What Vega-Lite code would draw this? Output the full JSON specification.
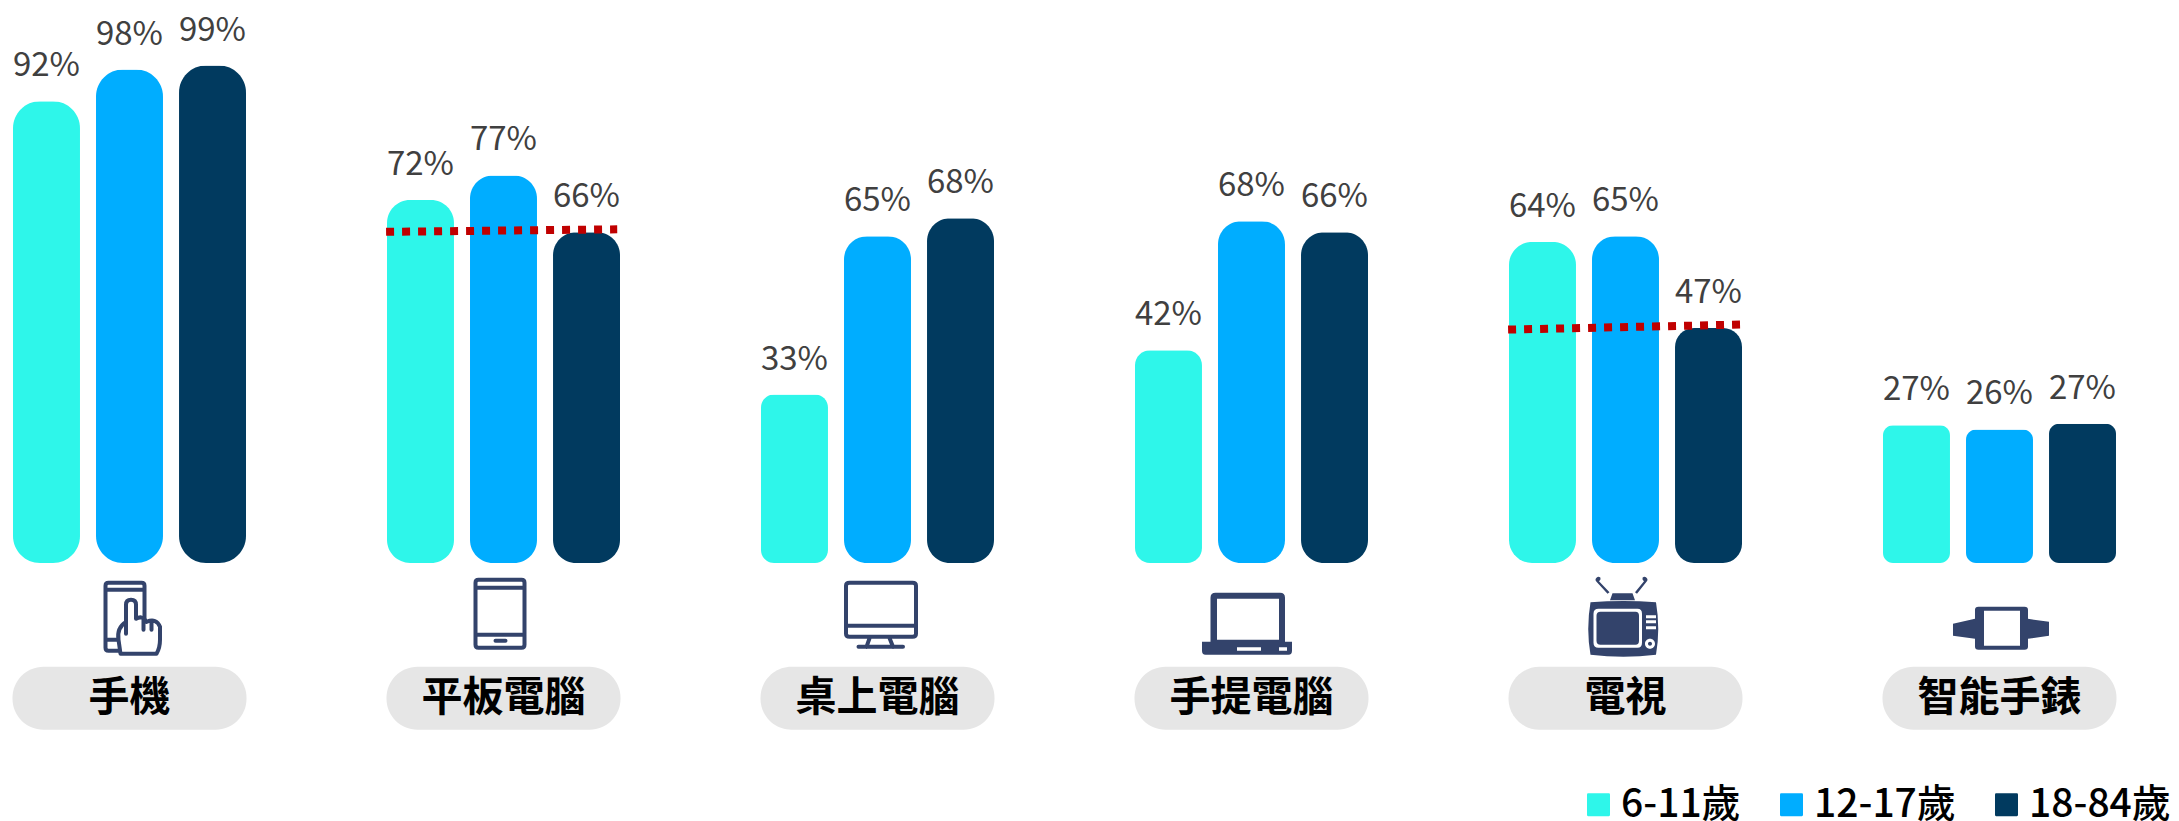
{
"$schema":"https://vega.github.io/schema/vega-lite/v6.json",
"width":2179,"height":821,"padding":0,
"autosize":{"type":"fit","contains":"padding"},
"background":"#ffffff",
"config":{"view":{"stroke":null},"text":{"font":"Noto Sans CJK TC"}},
"datasets":{
"bars":[
{"device":"手機","age":"6-11歲","value":91.6,"label":"92%"},{"device":"手機","age":"12-17歲","value":97.9,"label":"98%"},{"device":"手機","age":"18-84歲","value":98.7,"label":"99%"},
{"device":"平板電腦","age":"6-11歲","value":72,"label":"72%"},{"device":"平板電腦","age":"12-17歲","value":76.9,"label":"77%"},{"device":"平板電腦","age":"18-84歲","value":65.6,"label":"66%"},
{"device":"桌上電腦","age":"6-11歲","value":33.4,"label":"33%"},{"device":"桌上電腦","age":"12-17歲","value":64.8,"label":"65%"},{"device":"桌上電腦","age":"18-84歲","value":68.4,"label":"68%"},
{"device":"手提電腦","age":"6-11歲","value":42.2,"label":"42%"},{"device":"手提電腦","age":"12-17歲","value":67.8,"label":"68%"},{"device":"手提電腦","age":"18-84歲","value":65.6,"label":"66%"},
{"device":"電視","age":"6-11歲","value":63.7,"label":"64%"},{"device":"電視","age":"12-17歲","value":64.8,"label":"65%"},{"device":"電視","age":"18-84歲","value":46.6,"label":"47%"},
{"device":"智能手錶","age":"6-11歲","value":27.3,"label":"27%"},{"device":"智能手錶","age":"12-17歲","value":26.5,"label":"26%"},{"device":"智能手錶","age":"18-84歲","value":27.6,"label":"27%"}
],
"devices":[{"device":"手機"},{"device":"平板電腦"},{"device":"桌上電腦"},{"device":"手提電腦"},{"device":"電視"},{"device":"智能手錶"}],
"iconOutline":[{"device":"手機","part":"phone"},{"device":"手機","part":"hand"},{"device":"平板電腦","part":"tablet"},{"device":"桌上電腦","part":"desktop"}],
"iconSolid":[{"device":"手提電腦","part":"laptop"},{"device":"電視","part":"tv"},{"device":"智能手錶","part":"watch"}],
"iconDetail":[{"device":"手提電腦","part":"laptopDetail"},{"device":"電視","part":"tvDetail"},{"device":"智能手錶","part":"watchDetail"}],
"refLine":[
{"group":"平板電腦","pos":0.686,"level":65.7},{"group":"平板電腦","pos":1.304,"level":66.2},
{"group":"電視","pos":3.686,"level":46.3},{"group":"電視","pos":4.309,"level":47.3}
]
},
"layer":[
{"layer":[
{"data":{"name":"devices"},
 "mark":{"type":"bar","width":234,"cornerRadius":31,"color":"#e6e6e6"},
 "encoding":{
  "x":{"field":"device","type":"nominal","sort":null,"axis":null,"scale":{"domain":["手機","平板電腦","桌上電腦","手提電腦","電視","智能手錶"],"range":[13,2116],"paddingInner":0.377,"paddingOuter":0}},
  "y":{"datum":-20.6,"type":"quantitative","axis":null,"scale":{"domain":[-51.2,111.7],"nice":false,"zero":false}},
  "y2":{"datum":-33.1}}},
{"data":{"name":"devices"},
 "mark":{"type":"text","fontSize":41,"fontWeight":700,"color":"#000000","baseline":"middle","font":"Noto Sans CJK TC"},
 "encoding":{"x":{"field":"device","type":"nominal"},
  "y":{"datum":-26.9,"type":"quantitative"},"text":{"field":"device"}}},
{"data":{"name":"bars"},
 "encoding":{
  "x":{"field":"device","type":"nominal"},
  "xOffset":{"field":"age","type":"nominal","scale":{"domain":["6-11歲","12-17歲","18-84歲"],"paddingInner":0.193,"paddingOuter":0}},
  "y":{"field":"value","type":"quantitative"},
  "color":{"field":"age","type":"nominal","scale":{"domain":["6-11歲","12-17歲","18-84歲"],"range":["#2ef6ea","#00adff","#013a5f"]},
   "legend":{"orient":"none","legendX":1579,"legendY":785,"padding":0,"direction":"horizontal","title":null,"symbolType":"M-0.9,-1 L0.9,-1 Q1,-1 1,-0.9 L1,0.9 Q1,1 0.9,1 L-0.9,1 Q-1,1 -1,0.9 L-1,-0.9 Q-1,-1 -0.9,-1 Z","symbolSize":529,"symbolStrokeWidth":0,"labelFontSize":39,"labelFont":"Noto Sans CJK TC","labelFontWeight":500,"labelColor":"#000000","labelLimit":300,"columnPadding":31,"labelOffset":3}}},
 "layer":[
  {"transform":[{"filter":"datum.value>=90"}],"mark":{"type":"bar","cornerRadius":27}},
  {"transform":[{"filter":"datum.value>=60 && datum.value<90"}],"mark":{"type":"bar","cornerRadius":23}},
  {"transform":[{"filter":"datum.value>=45 && datum.value<60"}],"mark":{"type":"bar","cornerRadius":19}},
  {"transform":[{"filter":"datum.value>=35 && datum.value<45"}],"mark":{"type":"bar","cornerRadius":15}},
  {"transform":[{"filter":"datum.value>=30 && datum.value<35"}],"mark":{"type":"bar","cornerRadius":13}},
  {"transform":[{"filter":"datum.value<30"}],"mark":{"type":"bar","cornerRadius":10}},
  {"mark":{"type":"text","fontSize":33,"baseline":"alphabetic","dy":-25,"font":"Noto Sans CJK TC"},
   "encoding":{"text":{"field":"label"},"color":{"value":"#404040"}}}
 ]},
{"data":{"name":"iconOutline"},
 "mark":{"type":"point","size":40000,"filled":false,"fill":"#ffffff","fillOpacity":1,"stroke":"#33436b","strokeWidth":4,"opacity":1,"strokeJoin":"round","strokeCap":"round"},
 "encoding":{"x":{"field":"device","type":"nominal"},"y":{"datum":-9.3,"type":"quantitative"},
  "shape":{"field":"part","type":"nominal","legend":null,"scale":{"domain":["phone","hand","tablet","desktop","laptop","tv","watch","laptopDetail","tvDetail","watchDetail"],"range":[
   "M-0.24,-0.24 Q-0.24,-0.27 -0.21,-0.27 L0.12,-0.27 Q0.15,-0.27 0.15,-0.24 L0.15,0.38 Q0.15,0.41 0.12,0.41 L-0.21,0.41 Q-0.24,0.41 -0.24,0.38 Z M-0.24,-0.2 L0.15,-0.2 M-0.24,0.3 L-0.1,0.3",
   "M-0.09,0.44 L-0.11,0.3 Q-0.13,0.18 -0.035,0.12 L-0.035,-0.05 Q-0.035,-0.1 0.015,-0.1 Q0.065,-0.1 0.065,-0.05 L0.065,0.09 Q0.13,0.05 0.17,0.12 Q0.27,0.08 0.305,0.17 L0.305,0.3 Q0.305,0.38 0.27,0.44 Z M0.14,0.1 L0.14,0.2 M0.22,0.12 L0.22,0.2 M-0.035,0.12 L-0.035,0.24",
   "M-0.25,-0.3 L0.18,-0.3 Q0.21,-0.3 0.21,-0.27 L0.21,0.35 Q0.21,0.38 0.18,0.38 L-0.25,0.38 Q-0.28,0.38 -0.28,0.35 L-0.28,-0.27 Q-0.28,-0.3 -0.25,-0.3 Z M-0.28,-0.22 L0.21,-0.22 M-0.28,0.25 L0.21,0.25 M-0.08,0.31 L0.02,0.31",
   "M-0.28,-0.27 L0.35,-0.27 Q0.385,-0.27 0.385,-0.24 L0.385,0.24 Q0.385,0.27 0.35,0.27 L-0.28,0.27 Q-0.315,0.27 -0.315,0.24 L-0.315,-0.24 Q-0.315,-0.27 -0.28,-0.27 Z M-0.315,0.16 L0.385,0.16 M-0.075,0.27 L-0.11,0.37 M0.115,0.27 L0.155,0.37 M-0.19,0.37 L0.255,0.37",
   "M-0.41,-0.12 Q-0.41,-0.17 -0.36,-0.17 L0.285,-0.17 Q0.335,-0.17 0.335,-0.12 L0.335,0.32 L0.405,0.32 L0.405,0.41 Q0.405,0.45 0.37,0.45 L-0.46,0.45 Q-0.495,0.45 -0.495,0.41 L-0.495,0.32 L-0.41,0.32 Z",
   "M-0.35,-0.075 Q-0.02,-0.1 0.305,-0.075 Q0.35,0.19 0.305,0.45 Q-0.02,0.49 -0.35,0.45 Q-0.395,0.19 -0.35,-0.075 Z M-0.13,-0.165 L0.07,-0.165 L0.095,-0.095 L-0.155,-0.095 Z M-0.29,-0.28 Q-0.31,-0.3 -0.29,-0.32 Q-0.27,-0.34 -0.25,-0.32 Q-0.245,-0.3 -0.265,-0.285 L-0.16,-0.175 L-0.18,-0.16 Z M0.185,-0.285 Q0.165,-0.3 0.17,-0.32 Q0.19,-0.34 0.21,-0.32 Q0.23,-0.3 0.21,-0.28 L0.115,-0.16 L0.095,-0.175 Z",
   "M-0.465,0.14 L-0.245,0.09 L-0.245,0 Q-0.245,-0.03 -0.21,-0.03 L0.25,-0.03 Q0.285,-0.03 0.285,0 L0.285,0.09 L0.495,0.12 L0.495,0.26 L0.285,0.29 L0.285,0.37 Q0.285,0.4 0.25,0.4 L-0.21,0.4 Q-0.245,0.4 -0.245,0.37 L-0.245,0.29 L-0.465,0.26 Z",
   "M-0.345,-0.11 L0.275,-0.11 L0.275,0.3 L-0.345,0.3 Z M-0.145,0.375 L0.095,0.375 L0.095,0.41 L-0.145,0.41 Z M0.275,0.375 L0.355,0.375 L0.355,0.41 L0.275,0.41 Z",
   "M-0.27,-0.01 L0.12,-0.01 Q0.165,-0.01 0.165,0.04 L0.165,0.33 Q0.165,0.38 0.12,0.38 L-0.27,0.38 Q-0.32,0.38 -0.32,0.33 L-0.32,0.04 Q-0.32,-0.01 -0.27,-0.01 Z M-0.25,0.02 Q-0.29,0.02 -0.29,0.06 L-0.29,0.31 Q-0.29,0.35 -0.25,0.35 L0.1,0.35 Q0.135,0.35 0.135,0.31 L0.135,0.06 Q0.135,0.02 0.1,0.02 Z M0.205,0.055 L0.305,0.055 L0.305,0.085 L0.205,0.085 Z M0.205,0.105 L0.305,0.105 L0.305,0.135 L0.205,0.135 Z M0.205,0.165 L0.305,0.165 L0.305,0.195 L0.205,0.195 Z M0.195,0.34 A0.05,0.05 0 1 1 0.295,0.34 A0.05,0.05 0 1 1 0.195,0.34 Z M0.225,0.34 A0.02,0.02 0 1 0 0.265,0.34 A0.02,0.02 0 1 0 0.225,0.34 Z",
   "M-0.155,0.01 L0.205,0.01 L0.205,0.36 L-0.155,0.36 Z"
  ]}}}},
{"data":{"name":"iconSolid"},
 "mark":{"type":"point","size":40000,"filled":true,"color":"#33436b","opacity":1},
 "encoding":{"x":{"field":"device","type":"nominal"},"y":{"datum":-9.3,"type":"quantitative"},"shape":{"field":"part","type":"nominal","legend":null}}},
{"data":{"name":"iconDetail"},
 "mark":{"type":"point","size":40000,"filled":true,"color":"#ffffff","opacity":1},
 "encoding":{"x":{"field":"device","type":"nominal"},"y":{"datum":-9.3,"type":"quantitative"},"shape":{"field":"part","type":"nominal","legend":null}}}
]},
{"data":{"name":"refLine"},
 "mark":{"type":"line","color":"#c00000","strokeWidth":8,"strokeDash":[8,8]},
 "encoding":{
  "x":{"field":"pos","type":"quantitative","axis":null,"scale":{"domain":[-0.3463,5.4799],"nice":false,"zero":false}},
  "y":{"field":"level","type":"quantitative"},
  "detail":{"field":"group"}}}
],
"resolve":{"scale":{"x":"independent"}}
}
